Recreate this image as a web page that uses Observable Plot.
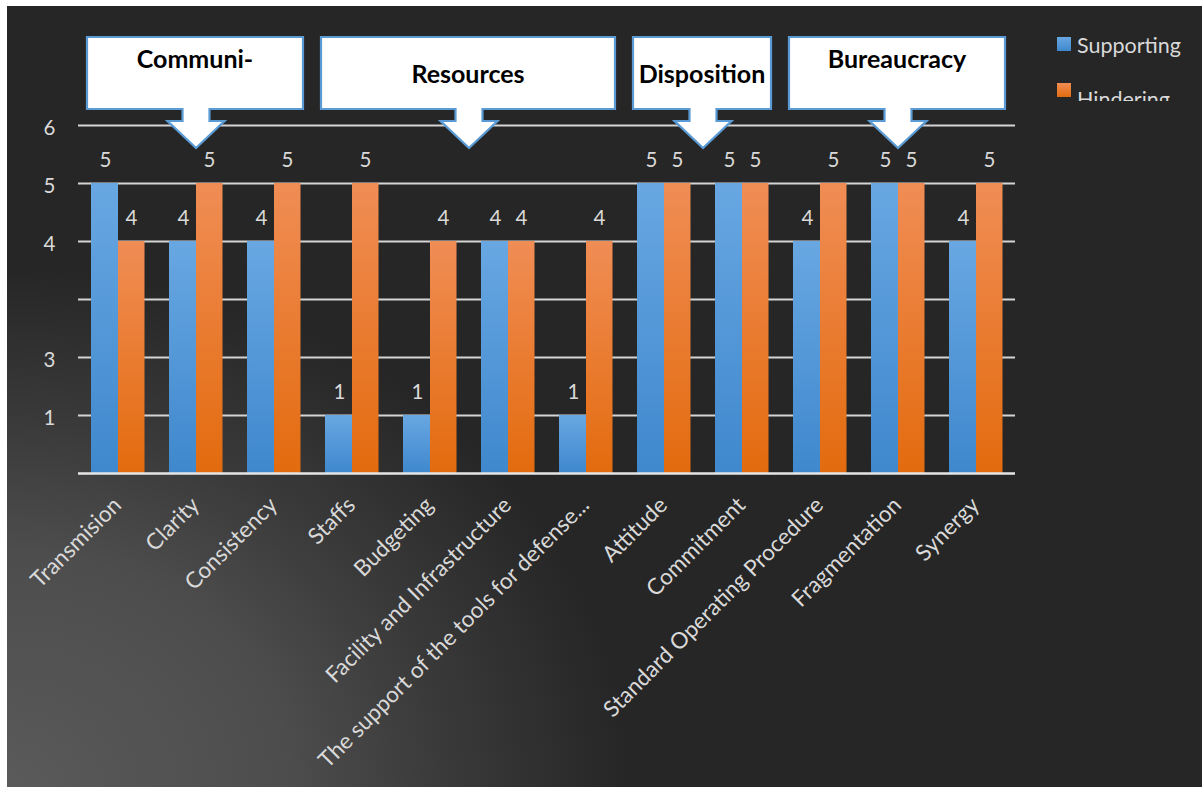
<!DOCTYPE html>
<html><head><meta charset="utf-8">
<script src="https://cdn.jsdelivr.net/npm/d3@7"></script>
<script src="https://cdn.jsdelivr.net/npm/@observablehq/plot@0.6"></script>
<style>
html,body{margin:0;padding:0;background:#fff;}
#panel{position:absolute;left:7px;top:6px;width:1195px;height:781px;overflow:hidden;
background: radial-gradient(ellipse 620px 520px at 0% 100%, #5a5a5a 0%, #4d4d4d 45%, #3a3a3a 70%, #262626 100%);}
#chart{position:absolute;left:0;top:0;}
#legend{position:absolute;left:1043px;top:22px;}
</style></head><body>
<div id="panel"><div id="chart"></div><div id="legend"></div></div>
<script>
// ---- data ----
const categories = ["Transmision","Clarity","Consistency","Staffs","Budgeting","Facility and Infrastructure","The support of the tools for defense...","Attitude","Commitment","Standard Operating Procedure","Fragmentation","Synergy"];
const seriesNames = ["Supporting","Hindering"];
const supporting = [5,4,4,1,1,4,1,5,5,4,5,4];
const hindering  = [4,5,5,5,4,4,4,5,5,5,5,5];
const yTicks = [0,1,3,3.5,4,5,6];
const yTickLabels = ["","1","3","","4","5","6"];
const groupNames = ["Communi-","Resources","Disposition","Bureaucracy"];
const groupFirst = ["Transmision","Staffs","Attitude","Standard Operating Procedure"];
const groupLast  = ["Consistency","The support of the tools for defense...","Commitment","Synergy"];

// ---- build ----
const rows = categories.map((c,i)=>({category:c, supporting:supporting[i], hindering:hindering[i]}));
const tickRows = yTicks.map((v,i)=>({value:v, label:yTickLabels[i]}));
const W = 1195, H = 781, mT = 119, mB = 314, mL = 71, mR = 187;
const txt = "#d9d9d9";
const font = "Lato, 'Open Sans', sans-serif";
// broken (piecewise) value axis: each tick value sits on an evenly spaced gridline
const slot = d3.scaleLinear().domain(yTicks).range(d3.range(yTicks.length));

const chart = Plot.plot({
  width: W, height: H,
  marginTop: mT, marginBottom: mB, marginLeft: mL, marginRight: mR,
  style: {background: "transparent", color: txt, fontFamily: font, overflow: "visible"},
  x: {domain: categories, padding: 0, label: null},
  y: {transform: v => slot(v), domain: [0, yTicks.length - 1], label: null, axis: null},
  marks: [
    Plot.ruleY(yTicks.slice(1), {stroke: "#d4d4d4", strokeWidth: 1.8}),
    Plot.barY(rows, {x: "category", y: "supporting", fill: "#5b9bd5", insetLeft: 12, insetRight: 39}),
    Plot.barY(rows, {x: "category", y: "hindering", fill: "#ed7d31", insetLeft: 39, insetRight: 12.5}),
    Plot.ruleY([0], {stroke: "#e6e6e6", strokeWidth: 2.5}),
    Plot.text(rows, {x: "category", y: "supporting", text: d => String(d.supporting), dx: -13, dy: -23, fontSize: 20.5, fill: txt}),
    Plot.text(rows, {x: "category", y: "hindering", text: d => String(d.hindering), dx: 13, dy: -23, fontSize: 20.5, fill: txt}),
    // value-axis labels
    Plot.text(tickRows, {y: "value", text: "label", frameAnchor: "left", textAnchor: "end", dx: -23, dy: 3, fontSize: 20.5, fill: txt}),
    Plot.axisX({tickRotate: -45, tickSize: 0, tickPadding: 28, fontSize: 22.5, dx: -1, label: null})
  ]
});
document.getElementById("chart").appendChild(chart);

// gradients
const svg = d3.select(chart);
const defs = svg.insert("defs", ":first-child");
function grad(id, top, bot) {
  const g = defs.append("linearGradient").attr("id", id).attr("x1", 0).attr("y1", 0).attr("x2", 0).attr("y2", 1);
  g.append("stop").attr("offset", "0%").attr("stop-color", top);
  g.append("stop").attr("offset", "100%").attr("stop-color", bot);
}
grad("gBlue", "#68a7e2", "#3f88cd");
grad("gOrange", "#f08d55", "#e36b0e");
const barGroups = chart.querySelectorAll('g[aria-label="bar"]');
if (barGroups[0]) barGroups[0].setAttribute("fill", "url(#gBlue)");
if (barGroups[1]) barGroups[1].setAttribute("fill", "url(#gOrange)");

// callouts
const xs = chart.scale("x"), ys = chart.scale("y");
const bw = xs.bandwidth;
const top6 = ys.apply(6);
const topAligned = {"Communi-": true, "Bureaucracy": true};
const cg = svg.append("g");
groupNames.forEach((name, i) => {
  const a = xs.apply(groupFirst[i]), b = xs.apply(groupLast[i]) + bw;
  const x0 = a + 8, x1 = b - 10, cx = (a + b) / 2;
  const bt = top6 - 88, bb = top6 - 16, sb = top6 - 4, tip = top6 + 23;
  const sw = 13.5, ww = 28.5;
  const p = `M${x0},${bt}H${x1}V${bb}H${cx+sw}V${sb}H${cx+ww}L${cx},${tip}L${cx-ww},${sb}H${cx-sw}V${bb}H${x0}Z`;
  cg.append("path").attr("d", p).attr("fill", "#fff").attr("stroke", "#5b9bd5").attr("stroke-width", 2.2).attr("stroke-linejoin", "miter");
  cg.append("text").attr("x", (x0 + x1) / 2).attr("y", topAligned[name] ? bt + 31 : bt + 46)
    .attr("text-anchor", "middle").attr("font-family", font).attr("font-weight", "bold")
    .attr("font-size", 25).attr("fill", "#000").text(name);
});

// legend
const lg = d3.select("#legend").append("svg").attr("width", 152).attr("height", 73).style("overflow", "hidden");
const lfills = ["url(#gBlue)", "url(#gOrange)"];
seriesNames.forEach((s, i) => {
  lg.append("rect").attr("x", 7).attr("y", 9 + i * 46).attr("width", 14).attr("height", 14).attr("fill", lfills[i]);
  lg.append("text").attr("x", 27).attr("y", 25 + i * 54).attr("font-family", font).attr("font-size", 21.5).attr("fill", txt).text(s);
});
</script>
</body></html>
